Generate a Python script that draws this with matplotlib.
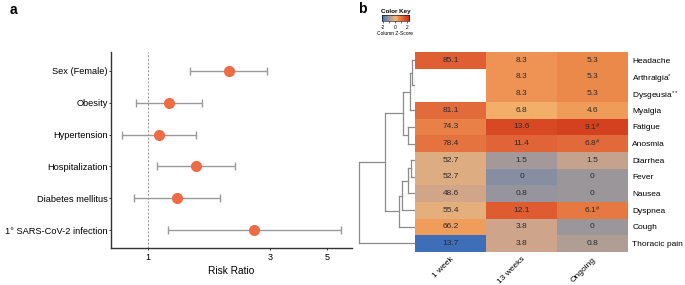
import numpy as np
import matplotlib
matplotlib.use("Agg")
import matplotlib.pyplot as plt
from matplotlib.colors import LinearSegmentedColormap

plt.rcParams['font.family'] = ['Liberation Sans', 'DejaVu Sans']
plt.rcParams['mathtext.fontset'] = 'custom'
plt.rcParams['mathtext.rm'] = 'Liberation Sans'
plt.rcParams['mathtext.default'] = 'regular'

# panel a: risk ratios
factors = ["Sex (Female)", "Obesity", "Hypertension", "Hospitalization",
           "Diabetes mellitus", "1° SARS-CoV-2 infection"]
rr = np.array([2.07, 1.21, 1.10, 1.54, 1.30, 2.60])
rr_lo = np.array([1.46, 0.90, 0.79, 1.08, 0.88, 1.20])
rr_hi = np.array([2.93, 1.62, 1.54, 2.18, 1.91, 5.67])

# panel b: symptom prevalence (%)
symptoms = ["Headache", "Arthralgia$^{*}$", "Dysgeusia$^{**}$", "Myalgia", "Fatigue",
            "Anosmia", "Diarrhea", "Fever", "Nausea", "Dyspnea", "Cough", "Thoracic pain"]
timepoints = ["1 week", "13 weeks", "Ongoing"]
week1 = [85.1, np.nan, np.nan, 81.1, 74.3, 78.4, 52.7, 52.7, 48.6, 55.4, 66.2, 13.7]
week13 = [8.3, 8.3, 8.3, 6.8, 13.6, 11.4, 1.5, 0, 0.8, 12.1, 3.8, 3.8]
ongoing = [5.3, 5.3, 5.3, 4.6, 9.1, 6.8, 1.5, 0, 0, 6.1, 0, 0.8]
ongoing_mark = ["", "", "", "", "#", "#", "", "", "", "#", "", ""]

# row dendrogram: (child a, child b, height); leaves are 0..11 in row order
merges = [(1, 2, 0.0), (0, 12, 2.7), (13, 3, 5.0), (4, 5, 6.7), (14, 15, 11.7),
          (6, 7, 4.0), (17, 8, 6.7), (18, 9, 13.3), (19, 10, 15.7),
          (16, 20, 30.0), (21, 11, 56.0)]

key_colors = [(-2.25, '#3c6eb8'), (-1.45, '#878ea3'), (-1.1, '#a39a98'),
              (-0.6, '#cfa58a'), (-0.35, '#e0ae80'), (0.0, '#f5b56e'),
              (0.3, '#f09a58'), (0.5, '#ec8a4c'), (1.0, '#e2693a'),
              (1.5, '#d94b24'), (2.25, '#c92a14')]
vmin, vmax = -2.25, 2.25
cmap = LinearSegmentedColormap.from_list(
    "key", [((v - vmin) / (vmax - vmin), c) for v, c in key_colors])
cmap.set_bad('white')

fig = plt.figure(figsize=(6.85, 2.85), dpi=100)

# ---- panel a
ax = fig.add_axes([111 / 685, 1 - 248 / 285, 241 / 685, 196 / 285])
y = np.arange(1, len(factors) + 1)
ax.errorbar(rr, y, xerr=[rr - rr_lo, rr_hi - rr], fmt='none', ecolor='#9a9a9a',
            elinewidth=1, capsize=3, capthick=1, zorder=2)
ax.plot(rr, y, 'o', color='#ee6b45', markersize=7, zorder=3)
ax.axvline(1, color='#888888', lw=0.6, ls=(0, (2.5, 2)), zorder=1)
ax.set_xscale('log')
ax.set_xlim(0.7165, 6.28)
ax.set_ylim(6.56, 0.41)
ax.set_xticks([1, 3, 5])
ax.set_xticklabels(['1', '3', '5'])
ax.xaxis.set_minor_locator(matplotlib.ticker.NullLocator())
ax.set_yticks(y)
ax.set_yticklabels(factors)
ax.tick_params(axis='y', labelsize=6.7, length=1.5, width=0.7, color='#333333', pad=1)
ax.tick_params(axis='x', labelsize=6.5, length=1.5, width=0.7, color='#333333', pad=2)
ax.set_xlabel("Risk Ratio", fontsize=7.3, labelpad=3)
for s in ['top', 'right']:
    ax.spines[s].set_visible(False)
for s in ['left', 'bottom']:
    ax.spines[s].set_linewidth(1)
    ax.spines[s].set_color('#333333')

# ---- panel b heatmap
vals = np.array([week1, week13, ongoing]).T
z = (vals - np.nanmean(vals, axis=0)) / np.nanstd(vals, axis=0, ddof=1)
axh = fig.add_axes([415 / 685, 1 - 251.7 / 285, 213 / 685, 199.7 / 285])
axh.imshow(np.ma.masked_invalid(z), cmap=cmap, vmin=vmin, vmax=vmax,
           aspect='auto', interpolation='nearest')
for i in range(vals.shape[0]):
    for j in range(vals.shape[1]):
        v = vals[i, j]
        if np.isnan(v):
            continue
        txt = f"{v:g}" if v != 0 else "0"
        if j == 2 and ongoing_mark[i]:
            txt += r"$^{\#}$"
        axh.text(j, i, txt, ha='center', va='center', fontsize=6, color='#2b2b2b')
axh.yaxis.tick_right()
axh.set_yticks(range(len(symptoms)))
axh.set_yticklabels(symptoms, fontsize=6)
axh.set_xticks(range(len(timepoints)))
axh.set_xticklabels(timepoints, fontsize=6, rotation=45, ha='right',
                    rotation_mode='anchor')
axh.tick_params(length=0, pad=3)
for s in axh.spines.values():
    s.set_visible(False)

# ---- row dendrogram
axd = fig.add_axes([345 / 685, 1 - 251.7 / 285, 70 / 685, 199.7 / 285])
node_y = {i: float(i) for i in range(len(symptoms))}
node_h = {i: 0.0 for i in range(len(symptoms))}
for k, (a, b, h) in enumerate(merges):
    nid = len(symptoms) + k
    for c in (a, b):
        axd.plot([node_h[c], h], [node_y[c], node_y[c]], color='#8c8c8c', lw=0.9)
    axd.plot([h, h], [node_y[a], node_y[b]], color='#8c8c8c', lw=0.9)
    node_y[nid] = (node_y[a] + node_y[b]) / 2
    node_h[nid] = h
axd.set_xlim(70, 0)
axd.set_ylim(len(symptoms) - 0.5, -0.5)
axd.axis('off')

# ---- color key
axk = fig.add_axes([381.7 / 685, 1 - 21.3 / 285, 27.3 / 685, 6 / 285])
grad = np.linspace(vmin, vmax, 256)[None, :]
axk.imshow(grad, cmap=cmap, vmin=vmin, vmax=vmax, aspect='auto',
           extent=[vmin, vmax, 0, 1])
axk.set_yticks([])
axk.set_xticks([-2, -1, 0, 1, 2])
axk.set_xticklabels(['-2', '', '0', '', '2'])
axk.tick_params(axis='x', labelsize=3.5, length=1.5, width=0.4, pad=1)
axk.set_title("Color Key", fontsize=4.5, fontweight='bold', pad=2)
axk.set_xlabel("Column Z-Score", fontsize=3.5, labelpad=1)
for s in axk.spines.values():
    s.set_linewidth(0.4)

fig.text(10 / 685, 1 - 3 / 285, "a", fontsize=10, fontweight='bold', va='top')
fig.text(358 / 685, 1 - 2 / 285, "b", fontsize=10, fontweight='bold', va='top')

fig.savefig("out.png", dpi=100)
